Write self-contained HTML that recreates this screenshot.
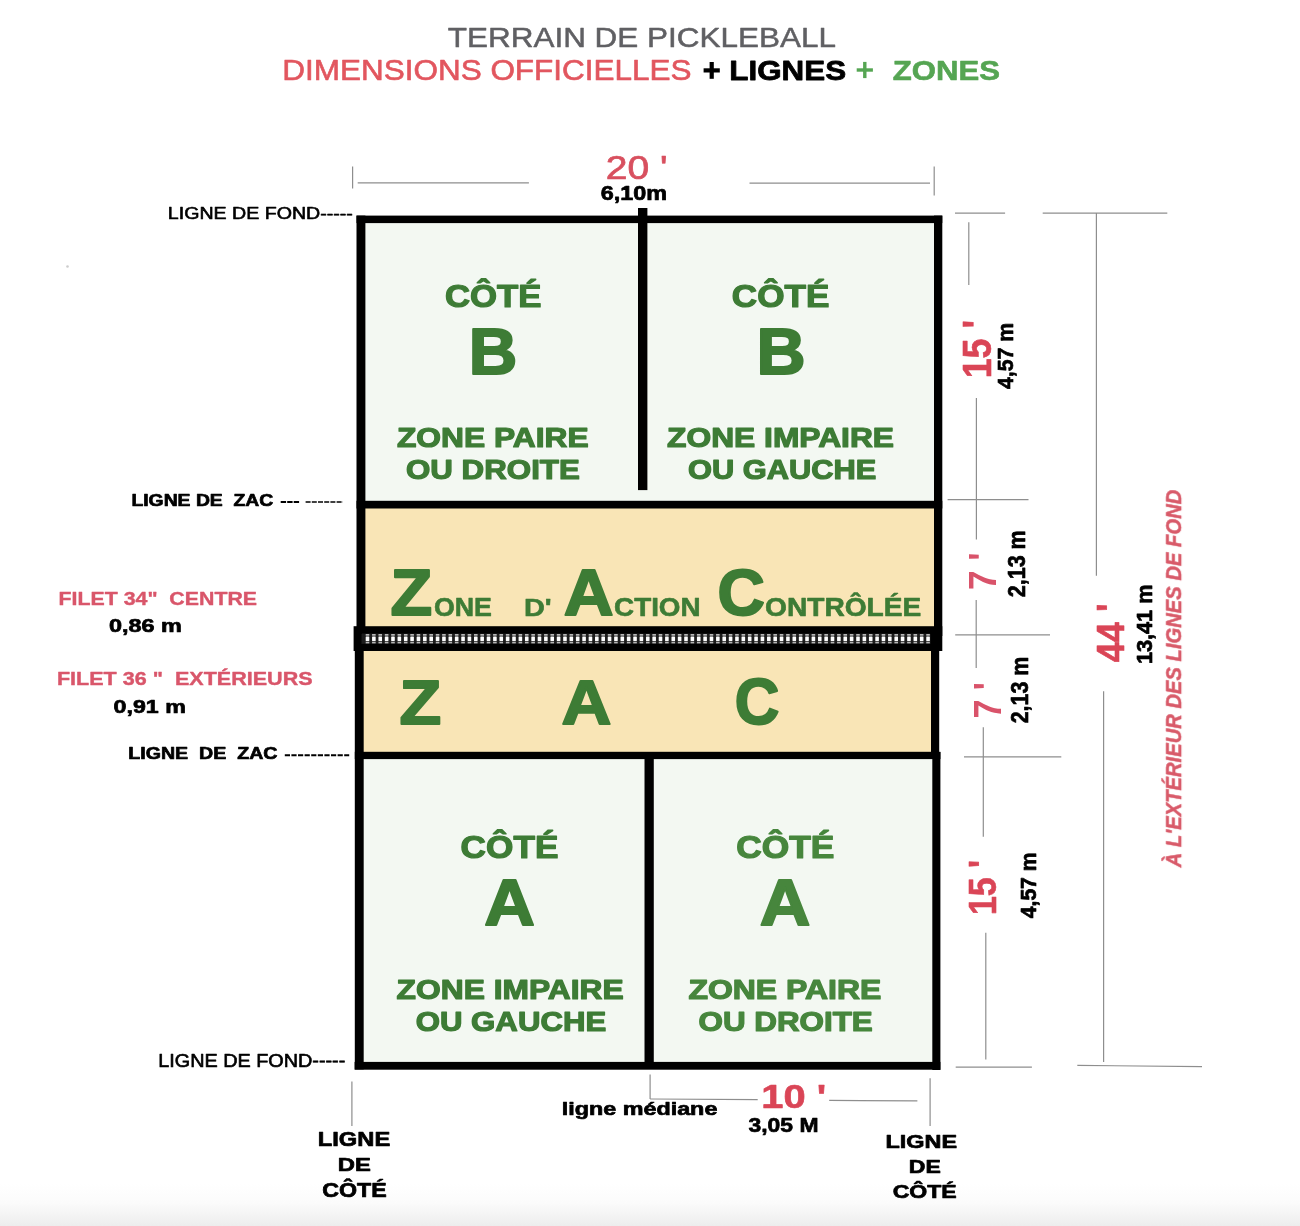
<!DOCTYPE html>
<html><head><meta charset="utf-8"><title>Terrain de pickleball</title>
<style>
html,body{margin:0;padding:0;background:#fff;}
body{width:1300px;height:1226px;overflow:hidden;font-family:"Liberation Sans",sans-serif;}
svg{display:block;}
svg text{font-family:"Liberation Sans",sans-serif;white-space:pre;}
</style></head><body>
<svg width="1300" height="1226" viewBox="0 0 1300 1226" xml:space="preserve">
<defs>
<linearGradient id="bg" x1="0" y1="0" x2="0" y2="1"><stop offset="0" stop-color="#ffffff"/><stop offset="0.45" stop-color="#fbfbfb"/><stop offset="1" stop-color="#ededed"/></linearGradient>
<filter id="b1" x="-5%" y="-50%" width="110%" height="200%"><feGaussianBlur stdDeviation="0.6"/></filter>
<filter id="b0" x="-2%" y="-2%" width="104%" height="104%"><feGaussianBlur stdDeviation="0.45"/></filter>
</defs>
<rect x="0" y="0" width="1300" height="1226" fill="#ffffff"/>
<rect x="0" y="1184" width="1300" height="42" fill="url(#bg)"/>
<g filter="url(#b0)">
<rect x="360.00" y="219.00" width="578.00" height="286.00" fill="#f3f8f2"/>
<rect x="360.00" y="505.00" width="578.00" height="125.00" fill="#f9e5b6"/>
<rect x="358.00" y="648.00" width="578.00" height="108.00" fill="#f9e5b6"/>
<rect x="358.00" y="756.00" width="578.00" height="310.00" fill="#f3f8f2"/>
<rect x="356.50" y="215.60" width="585.80" height="7.50" fill="#050505"/>
<rect x="356.50" y="215.60" width="8.90" height="420.40" fill="#050505"/>
<rect x="934.00" y="215.60" width="8.30" height="420.40" fill="#050505"/>
<rect x="356.50" y="500.80" width="585.80" height="7.70" fill="#050505"/>
<rect x="638.00" y="208.00" width="9.40" height="282.10" fill="#050505"/>
<rect x="354.80" y="640.00" width="8.90" height="429.40" fill="#050505"/>
<rect x="931.00" y="640.00" width="8.20" height="116.00" fill="#050505"/>
<rect x="932.30" y="752.00" width="8.10" height="318.00" fill="#050505"/>
<rect x="354.80" y="751.80" width="585.60" height="7.30" fill="#050505"/>
<rect x="644.50" y="755.00" width="9.30" height="311.00" fill="#050505"/>
<rect x="354.60" y="1061.90" width="585.80" height="7.80" fill="#050505"/>
<rect x="353.60" y="626.20" width="588.70" height="24.80" fill="#050505"/>
<g filter="url(#b1)">
<rect x="361.50" y="633.60" width="568.90" height="10.20" fill="#1c1c1c"/>
<rect x="365.70" y="634.0" width="3.6" height="1.7" fill="#b8b8b8"/>
<rect x="365.70" y="636.5" width="3.6" height="4.4" rx="0.5" fill="#fff"/>
<rect x="365.70" y="641.7" width="3.6" height="1.7" fill="#b8b8b8"/>
<rect x="372.07" y="634.0" width="3.6" height="1.7" fill="#b8b8b8"/>
<rect x="372.07" y="636.5" width="3.6" height="4.4" rx="0.5" fill="#fff"/>
<rect x="372.07" y="641.7" width="3.6" height="1.7" fill="#b8b8b8"/>
<rect x="378.44" y="634.0" width="3.6" height="1.7" fill="#b8b8b8"/>
<rect x="378.44" y="636.5" width="3.6" height="4.4" rx="0.5" fill="#fff"/>
<rect x="378.44" y="641.7" width="3.6" height="1.7" fill="#b8b8b8"/>
<rect x="384.81" y="634.0" width="3.6" height="1.7" fill="#b8b8b8"/>
<rect x="384.81" y="636.5" width="3.6" height="4.4" rx="0.5" fill="#fff"/>
<rect x="384.81" y="641.7" width="3.6" height="1.7" fill="#b8b8b8"/>
<rect x="391.18" y="634.0" width="3.6" height="1.7" fill="#b8b8b8"/>
<rect x="391.18" y="636.5" width="3.6" height="4.4" rx="0.5" fill="#fff"/>
<rect x="391.18" y="641.7" width="3.6" height="1.7" fill="#b8b8b8"/>
<rect x="397.55" y="634.0" width="3.6" height="1.7" fill="#b8b8b8"/>
<rect x="397.55" y="636.5" width="3.6" height="4.4" rx="0.5" fill="#fff"/>
<rect x="397.55" y="641.7" width="3.6" height="1.7" fill="#b8b8b8"/>
<rect x="403.92" y="634.0" width="3.6" height="1.7" fill="#b8b8b8"/>
<rect x="403.92" y="636.5" width="3.6" height="4.4" rx="0.5" fill="#fff"/>
<rect x="403.92" y="641.7" width="3.6" height="1.7" fill="#b8b8b8"/>
<rect x="410.29" y="634.0" width="3.6" height="1.7" fill="#b8b8b8"/>
<rect x="410.29" y="636.5" width="3.6" height="4.4" rx="0.5" fill="#fff"/>
<rect x="410.29" y="641.7" width="3.6" height="1.7" fill="#b8b8b8"/>
<rect x="416.66" y="634.0" width="3.6" height="1.7" fill="#b8b8b8"/>
<rect x="416.66" y="636.5" width="3.6" height="4.4" rx="0.5" fill="#fff"/>
<rect x="416.66" y="641.7" width="3.6" height="1.7" fill="#b8b8b8"/>
<rect x="423.03" y="634.0" width="3.6" height="1.7" fill="#b8b8b8"/>
<rect x="423.03" y="636.5" width="3.6" height="4.4" rx="0.5" fill="#fff"/>
<rect x="423.03" y="641.7" width="3.6" height="1.7" fill="#b8b8b8"/>
<rect x="429.40" y="634.0" width="3.6" height="1.7" fill="#b8b8b8"/>
<rect x="429.40" y="636.5" width="3.6" height="4.4" rx="0.5" fill="#fff"/>
<rect x="429.40" y="641.7" width="3.6" height="1.7" fill="#b8b8b8"/>
<rect x="435.77" y="634.0" width="3.6" height="1.7" fill="#b8b8b8"/>
<rect x="435.77" y="636.5" width="3.6" height="4.4" rx="0.5" fill="#fff"/>
<rect x="435.77" y="641.7" width="3.6" height="1.7" fill="#b8b8b8"/>
<rect x="442.14" y="634.0" width="3.6" height="1.7" fill="#b8b8b8"/>
<rect x="442.14" y="636.5" width="3.6" height="4.4" rx="0.5" fill="#fff"/>
<rect x="442.14" y="641.7" width="3.6" height="1.7" fill="#b8b8b8"/>
<rect x="448.51" y="634.0" width="3.6" height="1.7" fill="#b8b8b8"/>
<rect x="448.51" y="636.5" width="3.6" height="4.4" rx="0.5" fill="#fff"/>
<rect x="448.51" y="641.7" width="3.6" height="1.7" fill="#b8b8b8"/>
<rect x="454.88" y="634.0" width="3.6" height="1.7" fill="#b8b8b8"/>
<rect x="454.88" y="636.5" width="3.6" height="4.4" rx="0.5" fill="#fff"/>
<rect x="454.88" y="641.7" width="3.6" height="1.7" fill="#b8b8b8"/>
<rect x="461.25" y="634.0" width="3.6" height="1.7" fill="#b8b8b8"/>
<rect x="461.25" y="636.5" width="3.6" height="4.4" rx="0.5" fill="#fff"/>
<rect x="461.25" y="641.7" width="3.6" height="1.7" fill="#b8b8b8"/>
<rect x="467.62" y="634.0" width="3.6" height="1.7" fill="#b8b8b8"/>
<rect x="467.62" y="636.5" width="3.6" height="4.4" rx="0.5" fill="#fff"/>
<rect x="467.62" y="641.7" width="3.6" height="1.7" fill="#b8b8b8"/>
<rect x="473.99" y="634.0" width="3.6" height="1.7" fill="#b8b8b8"/>
<rect x="473.99" y="636.5" width="3.6" height="4.4" rx="0.5" fill="#fff"/>
<rect x="473.99" y="641.7" width="3.6" height="1.7" fill="#b8b8b8"/>
<rect x="480.36" y="634.0" width="3.6" height="1.7" fill="#b8b8b8"/>
<rect x="480.36" y="636.5" width="3.6" height="4.4" rx="0.5" fill="#fff"/>
<rect x="480.36" y="641.7" width="3.6" height="1.7" fill="#b8b8b8"/>
<rect x="486.73" y="634.0" width="3.6" height="1.7" fill="#b8b8b8"/>
<rect x="486.73" y="636.5" width="3.6" height="4.4" rx="0.5" fill="#fff"/>
<rect x="486.73" y="641.7" width="3.6" height="1.7" fill="#b8b8b8"/>
<rect x="493.10" y="634.0" width="3.6" height="1.7" fill="#b8b8b8"/>
<rect x="493.10" y="636.5" width="3.6" height="4.4" rx="0.5" fill="#fff"/>
<rect x="493.10" y="641.7" width="3.6" height="1.7" fill="#b8b8b8"/>
<rect x="499.47" y="634.0" width="3.6" height="1.7" fill="#b8b8b8"/>
<rect x="499.47" y="636.5" width="3.6" height="4.4" rx="0.5" fill="#fff"/>
<rect x="499.47" y="641.7" width="3.6" height="1.7" fill="#b8b8b8"/>
<rect x="505.84" y="634.0" width="3.6" height="1.7" fill="#b8b8b8"/>
<rect x="505.84" y="636.5" width="3.6" height="4.4" rx="0.5" fill="#fff"/>
<rect x="505.84" y="641.7" width="3.6" height="1.7" fill="#b8b8b8"/>
<rect x="512.21" y="634.0" width="3.6" height="1.7" fill="#b8b8b8"/>
<rect x="512.21" y="636.5" width="3.6" height="4.4" rx="0.5" fill="#fff"/>
<rect x="512.21" y="641.7" width="3.6" height="1.7" fill="#b8b8b8"/>
<rect x="518.58" y="634.0" width="3.6" height="1.7" fill="#b8b8b8"/>
<rect x="518.58" y="636.5" width="3.6" height="4.4" rx="0.5" fill="#fff"/>
<rect x="518.58" y="641.7" width="3.6" height="1.7" fill="#b8b8b8"/>
<rect x="524.95" y="634.0" width="3.6" height="1.7" fill="#b8b8b8"/>
<rect x="524.95" y="636.5" width="3.6" height="4.4" rx="0.5" fill="#fff"/>
<rect x="524.95" y="641.7" width="3.6" height="1.7" fill="#b8b8b8"/>
<rect x="531.32" y="634.0" width="3.6" height="1.7" fill="#b8b8b8"/>
<rect x="531.32" y="636.5" width="3.6" height="4.4" rx="0.5" fill="#fff"/>
<rect x="531.32" y="641.7" width="3.6" height="1.7" fill="#b8b8b8"/>
<rect x="537.69" y="634.0" width="3.6" height="1.7" fill="#b8b8b8"/>
<rect x="537.69" y="636.5" width="3.6" height="4.4" rx="0.5" fill="#fff"/>
<rect x="537.69" y="641.7" width="3.6" height="1.7" fill="#b8b8b8"/>
<rect x="544.06" y="634.0" width="3.6" height="1.7" fill="#b8b8b8"/>
<rect x="544.06" y="636.5" width="3.6" height="4.4" rx="0.5" fill="#fff"/>
<rect x="544.06" y="641.7" width="3.6" height="1.7" fill="#b8b8b8"/>
<rect x="550.43" y="634.0" width="3.6" height="1.7" fill="#b8b8b8"/>
<rect x="550.43" y="636.5" width="3.6" height="4.4" rx="0.5" fill="#fff"/>
<rect x="550.43" y="641.7" width="3.6" height="1.7" fill="#b8b8b8"/>
<rect x="556.80" y="634.0" width="3.6" height="1.7" fill="#b8b8b8"/>
<rect x="556.80" y="636.5" width="3.6" height="4.4" rx="0.5" fill="#fff"/>
<rect x="556.80" y="641.7" width="3.6" height="1.7" fill="#b8b8b8"/>
<rect x="563.17" y="634.0" width="3.6" height="1.7" fill="#b8b8b8"/>
<rect x="563.17" y="636.5" width="3.6" height="4.4" rx="0.5" fill="#fff"/>
<rect x="563.17" y="641.7" width="3.6" height="1.7" fill="#b8b8b8"/>
<rect x="569.54" y="634.0" width="3.6" height="1.7" fill="#b8b8b8"/>
<rect x="569.54" y="636.5" width="3.6" height="4.4" rx="0.5" fill="#fff"/>
<rect x="569.54" y="641.7" width="3.6" height="1.7" fill="#b8b8b8"/>
<rect x="575.91" y="634.0" width="3.6" height="1.7" fill="#b8b8b8"/>
<rect x="575.91" y="636.5" width="3.6" height="4.4" rx="0.5" fill="#fff"/>
<rect x="575.91" y="641.7" width="3.6" height="1.7" fill="#b8b8b8"/>
<rect x="582.28" y="634.0" width="3.6" height="1.7" fill="#b8b8b8"/>
<rect x="582.28" y="636.5" width="3.6" height="4.4" rx="0.5" fill="#fff"/>
<rect x="582.28" y="641.7" width="3.6" height="1.7" fill="#b8b8b8"/>
<rect x="588.65" y="634.0" width="3.6" height="1.7" fill="#b8b8b8"/>
<rect x="588.65" y="636.5" width="3.6" height="4.4" rx="0.5" fill="#fff"/>
<rect x="588.65" y="641.7" width="3.6" height="1.7" fill="#b8b8b8"/>
<rect x="595.02" y="634.0" width="3.6" height="1.7" fill="#b8b8b8"/>
<rect x="595.02" y="636.5" width="3.6" height="4.4" rx="0.5" fill="#fff"/>
<rect x="595.02" y="641.7" width="3.6" height="1.7" fill="#b8b8b8"/>
<rect x="601.39" y="634.0" width="3.6" height="1.7" fill="#b8b8b8"/>
<rect x="601.39" y="636.5" width="3.6" height="4.4" rx="0.5" fill="#fff"/>
<rect x="601.39" y="641.7" width="3.6" height="1.7" fill="#b8b8b8"/>
<rect x="607.76" y="634.0" width="3.6" height="1.7" fill="#b8b8b8"/>
<rect x="607.76" y="636.5" width="3.6" height="4.4" rx="0.5" fill="#fff"/>
<rect x="607.76" y="641.7" width="3.6" height="1.7" fill="#b8b8b8"/>
<rect x="614.13" y="634.0" width="3.6" height="1.7" fill="#b8b8b8"/>
<rect x="614.13" y="636.5" width="3.6" height="4.4" rx="0.5" fill="#fff"/>
<rect x="614.13" y="641.7" width="3.6" height="1.7" fill="#b8b8b8"/>
<rect x="620.50" y="634.0" width="3.6" height="1.7" fill="#b8b8b8"/>
<rect x="620.50" y="636.5" width="3.6" height="4.4" rx="0.5" fill="#fff"/>
<rect x="620.50" y="641.7" width="3.6" height="1.7" fill="#b8b8b8"/>
<rect x="626.87" y="634.0" width="3.6" height="1.7" fill="#b8b8b8"/>
<rect x="626.87" y="636.5" width="3.6" height="4.4" rx="0.5" fill="#fff"/>
<rect x="626.87" y="641.7" width="3.6" height="1.7" fill="#b8b8b8"/>
<rect x="633.24" y="634.0" width="3.6" height="1.7" fill="#b8b8b8"/>
<rect x="633.24" y="636.5" width="3.6" height="4.4" rx="0.5" fill="#fff"/>
<rect x="633.24" y="641.7" width="3.6" height="1.7" fill="#b8b8b8"/>
<rect x="639.61" y="634.0" width="3.6" height="1.7" fill="#b8b8b8"/>
<rect x="639.61" y="636.5" width="3.6" height="4.4" rx="0.5" fill="#fff"/>
<rect x="639.61" y="641.7" width="3.6" height="1.7" fill="#b8b8b8"/>
<rect x="645.98" y="634.0" width="3.6" height="1.7" fill="#b8b8b8"/>
<rect x="645.98" y="636.5" width="3.6" height="4.4" rx="0.5" fill="#fff"/>
<rect x="645.98" y="641.7" width="3.6" height="1.7" fill="#b8b8b8"/>
<rect x="652.35" y="634.0" width="3.6" height="1.7" fill="#b8b8b8"/>
<rect x="652.35" y="636.5" width="3.6" height="4.4" rx="0.5" fill="#fff"/>
<rect x="652.35" y="641.7" width="3.6" height="1.7" fill="#b8b8b8"/>
<rect x="658.72" y="634.0" width="3.6" height="1.7" fill="#b8b8b8"/>
<rect x="658.72" y="636.5" width="3.6" height="4.4" rx="0.5" fill="#fff"/>
<rect x="658.72" y="641.7" width="3.6" height="1.7" fill="#b8b8b8"/>
<rect x="665.09" y="634.0" width="3.6" height="1.7" fill="#b8b8b8"/>
<rect x="665.09" y="636.5" width="3.6" height="4.4" rx="0.5" fill="#fff"/>
<rect x="665.09" y="641.7" width="3.6" height="1.7" fill="#b8b8b8"/>
<rect x="671.46" y="634.0" width="3.6" height="1.7" fill="#b8b8b8"/>
<rect x="671.46" y="636.5" width="3.6" height="4.4" rx="0.5" fill="#fff"/>
<rect x="671.46" y="641.7" width="3.6" height="1.7" fill="#b8b8b8"/>
<rect x="677.83" y="634.0" width="3.6" height="1.7" fill="#b8b8b8"/>
<rect x="677.83" y="636.5" width="3.6" height="4.4" rx="0.5" fill="#fff"/>
<rect x="677.83" y="641.7" width="3.6" height="1.7" fill="#b8b8b8"/>
<rect x="684.20" y="634.0" width="3.6" height="1.7" fill="#b8b8b8"/>
<rect x="684.20" y="636.5" width="3.6" height="4.4" rx="0.5" fill="#fff"/>
<rect x="684.20" y="641.7" width="3.6" height="1.7" fill="#b8b8b8"/>
<rect x="690.57" y="634.0" width="3.6" height="1.7" fill="#b8b8b8"/>
<rect x="690.57" y="636.5" width="3.6" height="4.4" rx="0.5" fill="#fff"/>
<rect x="690.57" y="641.7" width="3.6" height="1.7" fill="#b8b8b8"/>
<rect x="696.94" y="634.0" width="3.6" height="1.7" fill="#b8b8b8"/>
<rect x="696.94" y="636.5" width="3.6" height="4.4" rx="0.5" fill="#fff"/>
<rect x="696.94" y="641.7" width="3.6" height="1.7" fill="#b8b8b8"/>
<rect x="703.31" y="634.0" width="3.6" height="1.7" fill="#b8b8b8"/>
<rect x="703.31" y="636.5" width="3.6" height="4.4" rx="0.5" fill="#fff"/>
<rect x="703.31" y="641.7" width="3.6" height="1.7" fill="#b8b8b8"/>
<rect x="709.68" y="634.0" width="3.6" height="1.7" fill="#b8b8b8"/>
<rect x="709.68" y="636.5" width="3.6" height="4.4" rx="0.5" fill="#fff"/>
<rect x="709.68" y="641.7" width="3.6" height="1.7" fill="#b8b8b8"/>
<rect x="716.05" y="634.0" width="3.6" height="1.7" fill="#b8b8b8"/>
<rect x="716.05" y="636.5" width="3.6" height="4.4" rx="0.5" fill="#fff"/>
<rect x="716.05" y="641.7" width="3.6" height="1.7" fill="#b8b8b8"/>
<rect x="722.42" y="634.0" width="3.6" height="1.7" fill="#b8b8b8"/>
<rect x="722.42" y="636.5" width="3.6" height="4.4" rx="0.5" fill="#fff"/>
<rect x="722.42" y="641.7" width="3.6" height="1.7" fill="#b8b8b8"/>
<rect x="728.79" y="634.0" width="3.6" height="1.7" fill="#b8b8b8"/>
<rect x="728.79" y="636.5" width="3.6" height="4.4" rx="0.5" fill="#fff"/>
<rect x="728.79" y="641.7" width="3.6" height="1.7" fill="#b8b8b8"/>
<rect x="735.16" y="634.0" width="3.6" height="1.7" fill="#b8b8b8"/>
<rect x="735.16" y="636.5" width="3.6" height="4.4" rx="0.5" fill="#fff"/>
<rect x="735.16" y="641.7" width="3.6" height="1.7" fill="#b8b8b8"/>
<rect x="741.53" y="634.0" width="3.6" height="1.7" fill="#b8b8b8"/>
<rect x="741.53" y="636.5" width="3.6" height="4.4" rx="0.5" fill="#fff"/>
<rect x="741.53" y="641.7" width="3.6" height="1.7" fill="#b8b8b8"/>
<rect x="747.90" y="634.0" width="3.6" height="1.7" fill="#b8b8b8"/>
<rect x="747.90" y="636.5" width="3.6" height="4.4" rx="0.5" fill="#fff"/>
<rect x="747.90" y="641.7" width="3.6" height="1.7" fill="#b8b8b8"/>
<rect x="754.27" y="634.0" width="3.6" height="1.7" fill="#b8b8b8"/>
<rect x="754.27" y="636.5" width="3.6" height="4.4" rx="0.5" fill="#fff"/>
<rect x="754.27" y="641.7" width="3.6" height="1.7" fill="#b8b8b8"/>
<rect x="760.64" y="634.0" width="3.6" height="1.7" fill="#b8b8b8"/>
<rect x="760.64" y="636.5" width="3.6" height="4.4" rx="0.5" fill="#fff"/>
<rect x="760.64" y="641.7" width="3.6" height="1.7" fill="#b8b8b8"/>
<rect x="767.01" y="634.0" width="3.6" height="1.7" fill="#b8b8b8"/>
<rect x="767.01" y="636.5" width="3.6" height="4.4" rx="0.5" fill="#fff"/>
<rect x="767.01" y="641.7" width="3.6" height="1.7" fill="#b8b8b8"/>
<rect x="773.38" y="634.0" width="3.6" height="1.7" fill="#b8b8b8"/>
<rect x="773.38" y="636.5" width="3.6" height="4.4" rx="0.5" fill="#fff"/>
<rect x="773.38" y="641.7" width="3.6" height="1.7" fill="#b8b8b8"/>
<rect x="779.75" y="634.0" width="3.6" height="1.7" fill="#b8b8b8"/>
<rect x="779.75" y="636.5" width="3.6" height="4.4" rx="0.5" fill="#fff"/>
<rect x="779.75" y="641.7" width="3.6" height="1.7" fill="#b8b8b8"/>
<rect x="786.12" y="634.0" width="3.6" height="1.7" fill="#b8b8b8"/>
<rect x="786.12" y="636.5" width="3.6" height="4.4" rx="0.5" fill="#fff"/>
<rect x="786.12" y="641.7" width="3.6" height="1.7" fill="#b8b8b8"/>
<rect x="792.49" y="634.0" width="3.6" height="1.7" fill="#b8b8b8"/>
<rect x="792.49" y="636.5" width="3.6" height="4.4" rx="0.5" fill="#fff"/>
<rect x="792.49" y="641.7" width="3.6" height="1.7" fill="#b8b8b8"/>
<rect x="798.86" y="634.0" width="3.6" height="1.7" fill="#b8b8b8"/>
<rect x="798.86" y="636.5" width="3.6" height="4.4" rx="0.5" fill="#fff"/>
<rect x="798.86" y="641.7" width="3.6" height="1.7" fill="#b8b8b8"/>
<rect x="805.23" y="634.0" width="3.6" height="1.7" fill="#b8b8b8"/>
<rect x="805.23" y="636.5" width="3.6" height="4.4" rx="0.5" fill="#fff"/>
<rect x="805.23" y="641.7" width="3.6" height="1.7" fill="#b8b8b8"/>
<rect x="811.60" y="634.0" width="3.6" height="1.7" fill="#b8b8b8"/>
<rect x="811.60" y="636.5" width="3.6" height="4.4" rx="0.5" fill="#fff"/>
<rect x="811.60" y="641.7" width="3.6" height="1.7" fill="#b8b8b8"/>
<rect x="817.97" y="634.0" width="3.6" height="1.7" fill="#b8b8b8"/>
<rect x="817.97" y="636.5" width="3.6" height="4.4" rx="0.5" fill="#fff"/>
<rect x="817.97" y="641.7" width="3.6" height="1.7" fill="#b8b8b8"/>
<rect x="824.34" y="634.0" width="3.6" height="1.7" fill="#b8b8b8"/>
<rect x="824.34" y="636.5" width="3.6" height="4.4" rx="0.5" fill="#fff"/>
<rect x="824.34" y="641.7" width="3.6" height="1.7" fill="#b8b8b8"/>
<rect x="830.71" y="634.0" width="3.6" height="1.7" fill="#b8b8b8"/>
<rect x="830.71" y="636.5" width="3.6" height="4.4" rx="0.5" fill="#fff"/>
<rect x="830.71" y="641.7" width="3.6" height="1.7" fill="#b8b8b8"/>
<rect x="837.08" y="634.0" width="3.6" height="1.7" fill="#b8b8b8"/>
<rect x="837.08" y="636.5" width="3.6" height="4.4" rx="0.5" fill="#fff"/>
<rect x="837.08" y="641.7" width="3.6" height="1.7" fill="#b8b8b8"/>
<rect x="843.45" y="634.0" width="3.6" height="1.7" fill="#b8b8b8"/>
<rect x="843.45" y="636.5" width="3.6" height="4.4" rx="0.5" fill="#fff"/>
<rect x="843.45" y="641.7" width="3.6" height="1.7" fill="#b8b8b8"/>
<rect x="849.82" y="634.0" width="3.6" height="1.7" fill="#b8b8b8"/>
<rect x="849.82" y="636.5" width="3.6" height="4.4" rx="0.5" fill="#fff"/>
<rect x="849.82" y="641.7" width="3.6" height="1.7" fill="#b8b8b8"/>
<rect x="856.19" y="634.0" width="3.6" height="1.7" fill="#b8b8b8"/>
<rect x="856.19" y="636.5" width="3.6" height="4.4" rx="0.5" fill="#fff"/>
<rect x="856.19" y="641.7" width="3.6" height="1.7" fill="#b8b8b8"/>
<rect x="862.56" y="634.0" width="3.6" height="1.7" fill="#b8b8b8"/>
<rect x="862.56" y="636.5" width="3.6" height="4.4" rx="0.5" fill="#fff"/>
<rect x="862.56" y="641.7" width="3.6" height="1.7" fill="#b8b8b8"/>
<rect x="868.93" y="634.0" width="3.6" height="1.7" fill="#b8b8b8"/>
<rect x="868.93" y="636.5" width="3.6" height="4.4" rx="0.5" fill="#fff"/>
<rect x="868.93" y="641.7" width="3.6" height="1.7" fill="#b8b8b8"/>
<rect x="875.30" y="634.0" width="3.6" height="1.7" fill="#b8b8b8"/>
<rect x="875.30" y="636.5" width="3.6" height="4.4" rx="0.5" fill="#fff"/>
<rect x="875.30" y="641.7" width="3.6" height="1.7" fill="#b8b8b8"/>
<rect x="881.67" y="634.0" width="3.6" height="1.7" fill="#b8b8b8"/>
<rect x="881.67" y="636.5" width="3.6" height="4.4" rx="0.5" fill="#fff"/>
<rect x="881.67" y="641.7" width="3.6" height="1.7" fill="#b8b8b8"/>
<rect x="888.04" y="634.0" width="3.6" height="1.7" fill="#b8b8b8"/>
<rect x="888.04" y="636.5" width="3.6" height="4.4" rx="0.5" fill="#fff"/>
<rect x="888.04" y="641.7" width="3.6" height="1.7" fill="#b8b8b8"/>
<rect x="894.41" y="634.0" width="3.6" height="1.7" fill="#b8b8b8"/>
<rect x="894.41" y="636.5" width="3.6" height="4.4" rx="0.5" fill="#fff"/>
<rect x="894.41" y="641.7" width="3.6" height="1.7" fill="#b8b8b8"/>
<rect x="900.78" y="634.0" width="3.6" height="1.7" fill="#b8b8b8"/>
<rect x="900.78" y="636.5" width="3.6" height="4.4" rx="0.5" fill="#fff"/>
<rect x="900.78" y="641.7" width="3.6" height="1.7" fill="#b8b8b8"/>
<rect x="907.15" y="634.0" width="3.6" height="1.7" fill="#b8b8b8"/>
<rect x="907.15" y="636.5" width="3.6" height="4.4" rx="0.5" fill="#fff"/>
<rect x="907.15" y="641.7" width="3.6" height="1.7" fill="#b8b8b8"/>
<rect x="913.52" y="634.0" width="3.6" height="1.7" fill="#b8b8b8"/>
<rect x="913.52" y="636.5" width="3.6" height="4.4" rx="0.5" fill="#fff"/>
<rect x="913.52" y="641.7" width="3.6" height="1.7" fill="#b8b8b8"/>
<rect x="919.89" y="634.0" width="3.6" height="1.7" fill="#b8b8b8"/>
<rect x="919.89" y="636.5" width="3.6" height="4.4" rx="0.5" fill="#fff"/>
<rect x="919.89" y="641.7" width="3.6" height="1.7" fill="#b8b8b8"/>
<rect x="926.26" y="634.0" width="3.6" height="1.7" fill="#b8b8b8"/>
<rect x="926.26" y="636.5" width="3.6" height="4.4" rx="0.5" fill="#fff"/>
<rect x="926.26" y="641.7" width="3.6" height="1.7" fill="#b8b8b8"/>
</g>
<line x1="352.60" y1="166.50" x2="352.60" y2="188.50" stroke="#8e8e8e" stroke-width="1.20"/>
<line x1="357.70" y1="182.80" x2="528.90" y2="182.80" stroke="#8e8e8e" stroke-width="1.20"/>
<line x1="749.50" y1="183.20" x2="930.00" y2="183.20" stroke="#8e8e8e" stroke-width="1.20"/>
<line x1="934.20" y1="166.50" x2="934.20" y2="195.40" stroke="#8e8e8e" stroke-width="1.20"/>
<line x1="955.00" y1="213.10" x2="1005.10" y2="213.10" stroke="#8e8e8e" stroke-width="1.20"/>
<line x1="1042.70" y1="213.10" x2="1167.30" y2="213.10" stroke="#8e8e8e" stroke-width="1.20"/>
<line x1="947.60" y1="499.70" x2="1028.50" y2="499.70" stroke="#8e8e8e" stroke-width="1.20"/>
<line x1="955.20" y1="634.90" x2="1050.00" y2="634.90" stroke="#8e8e8e" stroke-width="1.20"/>
<line x1="964.00" y1="756.80" x2="1061.30" y2="756.80" stroke="#8e8e8e" stroke-width="1.20"/>
<line x1="955.70" y1="1067.20" x2="1031.90" y2="1067.20" stroke="#8e8e8e" stroke-width="1.20"/>
<line x1="1077.30" y1="1065.40" x2="1202.00" y2="1066.60" stroke="#8e8e8e" stroke-width="1.20"/>
<line x1="968.80" y1="222.30" x2="968.80" y2="285.00" stroke="#8e8e8e" stroke-width="1.20"/>
<line x1="976.40" y1="398.00" x2="976.40" y2="539.50" stroke="#8e8e8e" stroke-width="1.20"/>
<line x1="976.20" y1="600.00" x2="976.20" y2="668.10" stroke="#8e8e8e" stroke-width="1.20"/>
<line x1="983.30" y1="727.30" x2="983.30" y2="836.80" stroke="#8e8e8e" stroke-width="1.20"/>
<line x1="985.80" y1="932.70" x2="985.80" y2="1059.60" stroke="#8e8e8e" stroke-width="1.20"/>
<line x1="1096.40" y1="213.10" x2="1096.40" y2="575.70" stroke="#8e8e8e" stroke-width="1.20"/>
<line x1="1103.60" y1="691.20" x2="1103.60" y2="1062.00" stroke="#8e8e8e" stroke-width="1.20"/>
<line x1="650.10" y1="1074.60" x2="650.10" y2="1099.00" stroke="#8e8e8e" stroke-width="1.20"/>
<line x1="650.10" y1="1099.00" x2="757.70" y2="1099.60" stroke="#8e8e8e" stroke-width="1.20"/>
<line x1="829.20" y1="1100.40" x2="917.40" y2="1100.90" stroke="#8e8e8e" stroke-width="1.20"/>
<line x1="930.10" y1="1078.30" x2="930.10" y2="1126.00" stroke="#8e8e8e" stroke-width="1.20"/>
<line x1="351.90" y1="1081.50" x2="351.90" y2="1126.00" stroke="#8e8e8e" stroke-width="1.20"/>
<text transform="translate(447.78 47.05) scale(1.1066 1)" font-size="28.44" font-weight="400" fill="#606064" stroke="#606064" stroke-width="0.50" stroke-linejoin="round">TERRAIN DE PICKLEBALL</text>
<text transform="translate(282.27 79.50) scale(1.0963 1)" font-size="28.73" font-weight="400" fill="#e2565e" stroke="#e2565e" stroke-width="0.60" stroke-linejoin="round">DIMENSIONS OFFICIELLES</text>
<rect x="703.60" y="68.30" width="16.20" height="4.20" fill="#000"/>
<rect x="709.60" y="62.00" width="4.20" height="16.80" fill="#000"/>
<text transform="translate(729.28 79.80) scale(1.1041 1)" font-size="28.44" font-weight="700" fill="#000" stroke="#000" stroke-width="0.80" stroke-linejoin="round">LIGNES</text>
<rect x="856.70" y="68.30" width="16.20" height="3.40" fill="#55a552"/>
<rect x="863.10" y="61.90" width="3.40" height="16.20" fill="#55a552"/>
<text transform="translate(892.74 80.10) scale(1.0945 1)" font-size="28.44" font-weight="700" fill="#55a552" stroke="#55a552" stroke-width="0.60" stroke-linejoin="round">ZONES</text>
<text transform="translate(605.87 178.85) scale(1.1526 1)" font-size="33.85" font-weight="400" fill="#d8505e" stroke="#d8505e" stroke-width="0.70" stroke-linejoin="round">20 '</text>
<text transform="translate(600.69 200.45) scale(1.2004 1)" font-size="19.48" font-weight="700" fill="#000" stroke="#000" stroke-width="0.70" stroke-linejoin="round">6,10m</text>
<text transform="translate(167.82 218.50) scale(1.1590 1)" font-size="16.92" font-weight="400" fill="#000" stroke="#000" stroke-width="0.60" stroke-linejoin="round">LIGNE DE FOND-----</text>
<text transform="translate(131.39 505.85) scale(1.1536 1)" font-size="16.78" font-weight="700" fill="#000" stroke="#000" stroke-width="0.70" stroke-linejoin="round">LIGNE DE  ZAC</text>
<line x1="280.7" y1="502" x2="299.4" y2="502" stroke="#000" stroke-width="2.2" stroke-dasharray="5.4 1.1"/>
<line x1="305.6" y1="502" x2="343" y2="502" stroke="#000" stroke-width="1.4" stroke-dasharray="5 1.2"/>
<text transform="translate(58.49 604.80) scale(1.1203 1)" font-size="19.06" font-weight="700" fill="#d9566b" stroke="#d9566b" stroke-width="0.40" stroke-linejoin="round">FILET 34"  CENTRE</text>
<text transform="translate(108.90 632.35) scale(1.2471 1)" font-size="18.77" font-weight="700" fill="#000" stroke="#000" stroke-width="0.70" stroke-linejoin="round">0,86 m</text>
<text transform="translate(56.89 685.10) scale(1.1658 1)" font-size="18.49" font-weight="700" fill="#d9566b" stroke="#d9566b" stroke-width="0.40" stroke-linejoin="round">FILET 36 "  EXTÉRIEURS</text>
<text transform="translate(113.61 713.15) scale(1.2366 1)" font-size="18.77" font-weight="700" fill="#000" stroke="#000" stroke-width="0.70" stroke-linejoin="round">0,91 m</text>
<text transform="translate(128.27 758.75) scale(1.1306 1)" font-size="17.35" font-weight="700" fill="#000" stroke="#000" stroke-width="0.70" stroke-linejoin="round">LIGNE  DE  ZAC</text>
<line x1="284.8" y1="755.3" x2="349.2" y2="755.3" stroke="#000" stroke-width="2" stroke-dasharray="5.2 1.4"/>
<text transform="translate(158.19 1066.80) scale(1.1331 1)" font-size="17.49" font-weight="400" fill="#000" stroke="#000" stroke-width="0.60" stroke-linejoin="round">LIGNE DE FOND-----</text>
<text transform="translate(444.99 307.00) scale(1.1211 1)" font-size="31.00" font-weight="700" fill="#3d7b35" stroke="#3d7b35" stroke-width="1.20" stroke-linejoin="round">CÔTÉ</text>
<text transform="translate(468.64 373.50) scale(1.0456 1)" font-size="64.28" font-weight="700" fill="#3d7b35" stroke="#3d7b35" stroke-width="2.00" stroke-linejoin="round">B</text>
<text transform="translate(396.98 447.00) scale(1.1331 1)" font-size="28.02" font-weight="700" fill="#3d7b35" stroke="#3d7b35" stroke-width="1.20" stroke-linejoin="round">ZONE PAIRE</text>
<text transform="translate(406.01 479.10) scale(1.1458 1)" font-size="27.31" font-weight="700" fill="#3d7b35" stroke="#3d7b35" stroke-width="1.20" stroke-linejoin="round">OU DROITE</text>
<text transform="translate(731.79 307.00) scale(1.1380 1)" font-size="30.86" font-weight="700" fill="#3d7b35" stroke="#3d7b35" stroke-width="1.20" stroke-linejoin="round">CÔTÉ</text>
<text transform="translate(756.41 373.50) scale(1.0574 1)" font-size="64.28" font-weight="700" fill="#3d7b35" stroke="#3d7b35" stroke-width="2.00" stroke-linejoin="round">B</text>
<text transform="translate(667.09 446.90) scale(1.1512 1)" font-size="27.59" font-weight="700" fill="#3d7b35" stroke="#3d7b35" stroke-width="1.20" stroke-linejoin="round">ZONE IMPAIRE</text>
<text transform="translate(688.11 479.30) scale(1.1169 1)" font-size="27.59" font-weight="700" fill="#3d7b35" stroke="#3d7b35" stroke-width="1.20" stroke-linejoin="round">OU GAUCHE</text>
<text transform="translate(460.58 858.20) scale(1.1363 1)" font-size="31.00" font-weight="700" fill="#3d7b35" stroke="#3d7b35" stroke-width="1.20" stroke-linejoin="round">CÔTÉ</text>
<text transform="translate(484.29 925.20) scale(1.0841 1)" font-size="64.71" font-weight="700" fill="#3d7b35" stroke="#3d7b35" stroke-width="2.00" stroke-linejoin="round">A</text>
<text transform="translate(396.60 999.20) scale(1.1636 1)" font-size="27.31" font-weight="700" fill="#3d7b35" stroke="#3d7b35" stroke-width="1.20" stroke-linejoin="round">ZONE IMPAIRE</text>
<text transform="translate(415.70 1031.30) scale(1.1243 1)" font-size="27.73" font-weight="700" fill="#3d7b35" stroke="#3d7b35" stroke-width="1.20" stroke-linejoin="round">OU GAUCHE</text>
<text transform="translate(736.18 858.00) scale(1.1462 1)" font-size="30.86" font-weight="700" fill="#46863c" stroke="#46863c" stroke-width="1.20" stroke-linejoin="round">CÔTÉ</text>
<text transform="translate(759.79 925.20) scale(1.0841 1)" font-size="64.71" font-weight="700" fill="#46863c" stroke="#46863c" stroke-width="2.00" stroke-linejoin="round">A</text>
<text transform="translate(688.41 999.00) scale(1.1825 1)" font-size="27.02" font-weight="700" fill="#46863c" stroke="#46863c" stroke-width="1.20" stroke-linejoin="round">ZONE PAIRE</text>
<text transform="translate(698.50 1031.20) scale(1.1374 1)" font-size="27.59" font-weight="700" fill="#46863c" stroke="#46863c" stroke-width="1.20" stroke-linejoin="round">OU DROITE</text>
<text transform="translate(390.59 615.40) scale(1.0555 1)" font-size="64.71" font-weight="700" fill="#3d7b35" stroke="#3d7b35" stroke-width="2.00" stroke-linejoin="round">Z</text>
<text transform="translate(433.97 616.10) scale(1.0288 1)" font-size="26.03" font-weight="700" fill="#3d7b35" stroke="#3d7b35" stroke-width="0.60" stroke-linejoin="round">ONE</text>
<text transform="translate(523.95 615.70) scale(1.1639 1)" font-size="24.75" font-weight="700" fill="#3d7b35" stroke="#3d7b35" stroke-width="0.60" stroke-linejoin="round">D'</text>
<text transform="translate(563.80 615.30) scale(1.0806 1)" font-size="63.86" font-weight="700" fill="#3d7b35" stroke="#3d7b35" stroke-width="2.00" stroke-linejoin="round">A</text>
<text transform="translate(614.06 616.10) scale(1.0868 1)" font-size="25.60" font-weight="700" fill="#3d7b35" stroke="#3d7b35" stroke-width="0.60" stroke-linejoin="round">CTION</text>
<text transform="translate(717.47 615.00) scale(1.0202 1)" font-size="64.28" font-weight="700" fill="#3d7b35" stroke="#3d7b35" stroke-width="2.00" stroke-linejoin="round">C</text>
<text transform="translate(765.05 616.00) scale(1.1048 1)" font-size="25.46" font-weight="700" fill="#3d7b35" stroke="#3d7b35" stroke-width="0.60" stroke-linejoin="round">ONTRÔLÉE</text>
<text transform="translate(399.60 724.00) scale(1.0689 1)" font-size="63.86" font-weight="700" fill="#3d7b35" stroke="#3d7b35" stroke-width="2.00" stroke-linejoin="round">Z</text>
<text transform="translate(561.51 723.80) scale(1.0874 1)" font-size="63.57" font-weight="700" fill="#3d7b35" stroke="#3d7b35" stroke-width="2.00" stroke-linejoin="round">A</text>
<text transform="translate(734.82 724.18) scale(0.9467 1)" font-size="65.25" font-weight="700" fill="#3d7b35" stroke="#3d7b35" stroke-width="2.00" stroke-linejoin="round">C</text>
<text transform="translate(561.68 1115.35) scale(1.2431 1)" font-size="18.79" font-weight="700" fill="#000" stroke="#000" stroke-width="0.70" stroke-linejoin="round">ligne médiane</text>
<text transform="translate(761.36 1107.80) scale(1.1825 1)" font-size="33.71" font-weight="700" fill="#da4557" stroke="#da4557" stroke-width="0.60" stroke-linejoin="round">10 '</text>
<text transform="translate(748.53 1132.45) scale(1.1098 1)" font-size="20.62" font-weight="700" fill="#000" stroke="#000" stroke-width="0.70" stroke-linejoin="round">3,05 M</text>
<text transform="translate(317.74 1145.95) scale(1.1997 1)" font-size="19.77" font-weight="700" fill="#000" stroke="#000" stroke-width="0.70" stroke-linejoin="round">LIGNE</text>
<text transform="translate(337.75 1171.45) scale(1.2571 1)" font-size="18.92" font-weight="700" fill="#000" stroke="#000" stroke-width="0.70" stroke-linejoin="round">DE</text>
<text transform="translate(322.29 1196.65) scale(1.1918 1)" font-size="19.48" font-weight="700" fill="#000" stroke="#000" stroke-width="0.70" stroke-linejoin="round">CÔTÉ</text>
<text transform="translate(885.47 1147.85) scale(1.2390 1)" font-size="18.92" font-weight="700" fill="#000" stroke="#000" stroke-width="0.70" stroke-linejoin="round">LIGNE</text>
<text transform="translate(908.80 1172.95) scale(1.2543 1)" font-size="18.35" font-weight="700" fill="#000" stroke="#000" stroke-width="0.70" stroke-linejoin="round">DE</text>
<text transform="translate(892.71 1197.55) scale(1.2195 1)" font-size="18.92" font-weight="700" fill="#000" stroke="#000" stroke-width="0.70" stroke-linejoin="round">CÔTÉ</text>
<text transform="translate(990.50 378.26) rotate(-90) scale(0.8977 1)" font-size="39.82" font-weight="700" fill="#da4557" stroke="#da4557" stroke-width="0.60" stroke-linejoin="round">15 '</text>
<text transform="translate(1012.85 388.96) rotate(-90) scale(0.9588 1)" font-size="22.19" font-weight="700" fill="#000" stroke="#000" stroke-width="0.70" stroke-linejoin="round">4,57 m</text>
<text transform="translate(996.00 590.10) rotate(-90) scale(0.9018 1)" font-size="38.97" font-weight="700" fill="#d9526a">7 '</text>
<text transform="translate(1025.45 597.15) rotate(-90) scale(0.9204 1)" font-size="23.32" font-weight="700" fill="#000" stroke="#000" stroke-width="0.70" stroke-linejoin="round">2,13 m</text>
<text transform="translate(1001.40 718.56) rotate(-90) scale(0.8733 1)" font-size="38.97" font-weight="700" fill="#d9526a">7 '</text>
<text transform="translate(1028.45 723.25) rotate(-90) scale(0.9093 1)" font-size="23.47" font-weight="700" fill="#000" stroke="#000" stroke-width="0.70" stroke-linejoin="round">2,13 m</text>
<text transform="translate(995.70 915.05) rotate(-90) scale(0.8895 1)" font-size="38.12" font-weight="700" fill="#da4557" stroke="#da4557" stroke-width="0.60" stroke-linejoin="round">15 '</text>
<text transform="translate(1036.25 918.15) rotate(-90) scale(0.9876 1)" font-size="21.33" font-weight="700" fill="#000" stroke="#000" stroke-width="0.70" stroke-linejoin="round">4,57 m</text>
<text transform="translate(1123.90 662.22) rotate(-90) scale(0.9468 1)" font-size="38.12" font-weight="700" fill="#da4557" stroke="#da4557" stroke-width="0.60" stroke-linejoin="round">44 '</text>
<text transform="translate(1151.85 664.10) rotate(-90) scale(1.0232 1)" font-size="21.19" font-weight="700" fill="#000" stroke="#000" stroke-width="0.70" stroke-linejoin="round">13,41 m</text>
<text transform="translate(1181.15 867.24) rotate(-90) scale(0.9232 1)" font-size="21.90" font-weight="700" font-style="italic" fill="#d85a69" stroke="#d85a69" stroke-width="0.50" stroke-linejoin="round">À L'EXTÉRIEUR DES LIGNES DE FOND</text>
<circle cx="67.5" cy="266.5" r="1.3" fill="#ccc"/>
</g>
</svg>
</body></html>
